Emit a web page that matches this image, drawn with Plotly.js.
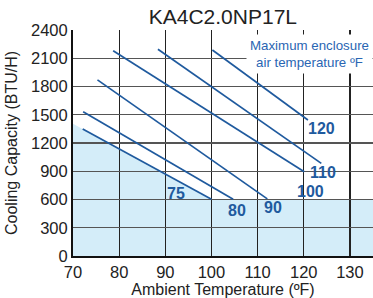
<!DOCTYPE html>
<html>
<head>
<meta charset="utf-8">
<script src="https://cdn.plot.ly/plotly-3.0.1.min.js"></script>
<style>html,body{margin:0;padding:0;background:#fff;}#chart{width:373px;height:298px;}</style>
</head>
<body>
<div id="chart"></div>
<script>
// Curve endpoints (ambient °F, BTU/H)
const curveNames = ["75", "80", "90", "100", "110", "120"];
const curveX = [[72.1, 100.0], [72.2, 104.7], [75.3, 112.1], [78.7, 120.1], [88.4, 123.8], [100.2, 120.9]];
const curveY = [[1350, 602], [1532, 602], [1870, 607], [2180, 895], [2195, 984], [2188, 1444]];
// Label positions
const labelX = [92.3, 105.5, 113.3, 121.5, 124.1, 123.9];
const labelY = [669, 488, 510, 680, 892, 1359];
// Shaded region boundary
const shadeX = [70, 100, 135, 135, 70];
const shadeY = [1404, 600, 600, 0, 0];
const xTicks = [70, 80, 90, 100, 110, 120, 130];
const yTicks = [0, 300, 600, 900, 1200, 1500, 1800, 2100, 2400];

const blue = "#1f5a9e";
const traces = [];
curveX.forEach((xs, i) => {
  traces.push({x: xs, y: curveY[i], type: "scatter", mode: "lines",
    line: {color: blue, width: 1.7}, showlegend: false, name: curveNames[i]});
});
const shadePath = shadeX.map((x, i) => (i === 0 ? "M" : "L") + x + "," + shadeY[i]).join(" ") + " Z";
const shapes = [{
  type: "path", xref: "x", yref: "y", path: shadePath, layer: "below",
  fillcolor: "#d4edf9", line: {width: 0}
}];
const annotations = curveNames.map((n, i) => ({
  x: labelX[i], y: labelY[i], text: "<b>" + n + "</b>", showarrow: false,
  font: {family: "Liberation Sans, Arial, sans-serif", size: 16, color: blue}
}));
annotations.push({
  x: 121.3, y: 2150, text: "Maximum enclosure<br>air temperature ºF", showarrow: false,
  bgcolor: "#ffffff", borderpad: 3,
  font: {family: "Liberation Sans, Arial, sans-serif", size: 13.3, color: "#2a66b3"}
});
const layout = {
  width: 373, height: 298,
  margin: {l: 73, r: 0, t: 30, b: 42},
  paper_bgcolor: "#fff", plot_bgcolor: "#fff",
  font: {family: "Liberation Sans, Arial, sans-serif", color: "#222"},
  title: {text: "KA4C2.0NP17L", x: 0.5975, xanchor: "center", y: 0.945, yanchor: "middle",
    font: {size: 21, color: "#222"}},
  xaxis: {range: [70, 135], tickvals: xTicks, ticktext: xTicks.map(String),
    showgrid: true, gridcolor: "#222", gridwidth: 1.3, zeroline: false,
    showline: true, linecolor: "#111", linewidth: 2, ticks: "",
    tickfont: {size: 16.5, color: "#222"},
    title: {text: "Ambient Temperature (ºF)", font: {size: 16, color: "#222"}, standoff: 3},
    layer: "above traces"},
  yaxis: {range: [0, 2400], tickvals: yTicks, ticktext: yTicks.map(String),
    showgrid: true, gridcolor: "#555", gridwidth: 1.3, zeroline: false,
    showline: true, linecolor: "#111", linewidth: 2, ticks: "",
    tickfont: {size: 16.5, color: "#222"},
    title: {text: "Cooling Capacity (BTU/H)", font: {size: 16, color: "#222"}, standoff: 9},
    layer: "above traces"},
  shapes: shapes,
  annotations: annotations
};
Plotly.newPlot("chart", traces, layout, {displayModeBar: false, staticPlot: true});
</script>
</body>
</html>
